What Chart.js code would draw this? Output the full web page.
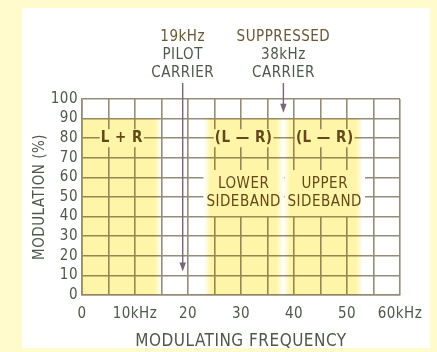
<!DOCTYPE html>
<html>
<head>
<meta charset="utf-8">
<style>
  html, body { margin: 0; padding: 0; background: #fffbcd; }
  #c { display: block; }
</style>
<script src="https://cdn.jsdelivr.net/npm/chart.js@4.4.1/dist/chart.umd.min.js"></script>
</head>
<body>
<canvas id="c" width="437" height="352"></canvas>
<script>
// Stereo FM composite baseband: how the modulation is shared out over frequency.

// Frequency axis (kHz): grid every 5 kHz, labels every 10 kHz
const freqGrid = [0, 5, 10, 15, 20, 25, 30, 35, 40, 45, 50, 55, 60];
const freqLabelValues = [0, 10, 20, 30, 40, 50, 60];
const freqLabels = ['0', '10kHz', '20', '30', '40', '50', '60kHz'];

// Modulation axis (%)
const modTicks = [0, 10, 20, 30, 40, 50, 60, 70, 80, 90, 100];

// Occupied signal bands: start / end frequency (kHz) and modulation level (%)
const bandFrom = [0, 23, 38];
const bandTo = [15, 38, 53];
const bandLevel = [90, 90, 90];

// Carriers: frequency (kHz) and level the arrow points to (%)
const carrierFreq = [19, 38];
const carrierLevel = [12, 93];
const carrierText = [['19kHz', 'PILOT', 'CARRIER'], ['SUPPRESSED', '38kHz', 'CARRIER']];

// Band captions: centre frequency (kHz), centre level (%)
const captionText = [['L + R'], ['(L \u2014 R)'], ['(L \u2014 R)'], ['LOWER', 'SIDEBAND'], ['UPPER', 'SIDEBAND']];
const captionFreq = [7.5, 30.5, 45.8, 30.5, 45.8];
const captionLevel = [80, 80, 80, 52, 52];

const FONT = "'Liberation Sans Narrow', 'DejaVu Sans Condensed', 'Roboto', sans-serif";
const AXIS_TEXT = 'rgb(78,88,74)';
const GRID = 'rgb(150,140,122)';
const BAND_RGB = '255,245,168';
const CAPTION = 'rgb(100,72,26)';
const ARROW = 'rgb(122,102,122)';
const SPACING = '0.5px';

const bandsPlugin = {
  id: 'bands',
  beforeDraw(chart) {
    const ctx = chart.ctx;
    ctx.save();
    ctx.fillStyle = '#fffbcd';
    ctx.fillRect(0, 0, chart.width, chart.height);
    ctx.fillStyle = '#ffffff';
    ctx.fillRect(22, 8, 408, 340);
    ctx.restore();
    ctx.letterSpacing = SPACING;
  },
  afterDraw(chart) {
    const ctx = chart.ctx;
    const x = chart.scales.x, y = chart.scales.y;
    const area = chart.chartArea;
    ctx.save();
    ctx.letterSpacing = SPACING;

    // caption boxes clear the grid behind the text
    const captions = captionText.map((lines, i) => {
      const single = lines.length === 1;
      ctx.font = (single ? 'bold 15px ' : '15px ') + FONT;
      const lh = 18;
      const w = Math.max(...lines.map(t => ctx.measureText(t).width));
      const cx = x.getPixelForValue(captionFreq[i]);
      const cy = y.getPixelForValue(captionLevel[i]);
      const h = lh * lines.length;
      const px = single ? 1 : 3, py = single ? 0 : 5;
      return { lines, cx, cy, w, h, lh, font: ctx.font,
        box: [cx - w / 2 - px, cy - h / 2 - py, w + 2 * px, h + 2 * py] };
    });
    ctx.fillStyle = '#ffffff';
    captions.forEach(c => ctx.fillRect(...c.box));

    // yellow bands, tinting the grid lines beneath them
    ctx.globalCompositeOperation = 'multiply';
    const fade = 1.3;
    bandFrom.forEach((from, i) => {
      const to = bandTo[i];
      const x0 = x.getPixelForValue(from), x1 = x.getPixelForValue(to);
      const yTop = y.getPixelForValue(bandLevel[i]), yBot = y.getPixelForValue(0);
      const g = ctx.createLinearGradient(x0, 0, x1, 0);
      const span = to - from;
      const solid = 'rgba(' + BAND_RGB + ',1)', clear = 'rgba(' + BAND_RGB + ',0)';
      g.addColorStop(0, from <= x.min ? solid : clear);
      g.addColorStop(fade / span, solid);
      g.addColorStop(1 - fade / span, solid);
      g.addColorStop(1, clear);
      ctx.fillStyle = g;
      ctx.fillRect(x0, yTop, x1 - x0, yBot - yTop);
    });
    ctx.globalCompositeOperation = 'source-over';

    // caption text
    ctx.fillStyle = CAPTION;
    ctx.textAlign = 'center';
    ctx.textBaseline = 'middle';
    captions.forEach(c => {
      ctx.font = c.font;
      c.lines.forEach((t, k) => {
        ctx.fillText(t, c.cx, c.cy - c.h / 2 + c.lh * (k + 0.5));
      });
    });

    // carrier arrows and their notes above the grid
    carrierFreq.forEach((f, i) => {
      const px = x.getPixelForValue(f);
      const tip = y.getPixelForValue(carrierLevel[i]);
      const start = area.top - 16;
      ctx.strokeStyle = ARROW;
      ctx.lineWidth = 1.4;
      ctx.beginPath();
      ctx.moveTo(px, start);
      ctx.lineTo(px, tip - 6);
      ctx.stroke();
      ctx.fillStyle = ARROW;
      ctx.beginPath();
      ctx.moveTo(px, tip);
      ctx.lineTo(px - 3.2, tip - 9);
      ctx.lineTo(px + 3.2, tip - 9);
      ctx.closePath();
      ctx.fill();

      ctx.font = '15px ' + FONT;
      carrierText[i].forEach((t, k) => {
        ctx.fillStyle = k === 0 ? 'rgb(104,86,52)' : AXIS_TEXT;
        ctx.fillText(t, px, area.top - 62 + 18 * k);
      });
    });
    ctx.restore();
  }
};

new Chart(document.getElementById('c'), {
  type: 'scatter',
  data: { datasets: [] },
  plugins: [bandsPlugin],
  options: {
    responsive: false,
    animation: false,
    devicePixelRatio: 1,
    layout: { padding: { left: 0, right: 37, top: 99, bottom: 0 } },
    plugins: { legend: { display: false }, tooltip: { enabled: false } },
    scales: {
      x: {
        type: 'linear',
        min: 0,
        max: 60,
        afterBuildTicks: s => { s.ticks = freqGrid.map(v => ({ value: v })); },
        afterFit: s => { s.height = 57; },
        ticks: {
          autoSkip: false,
          maxRotation: 0,
          padding: 10,
          color: AXIS_TEXT,
          font: { family: FONT, size: 15 },
          callback: v => {
            const k = freqLabelValues.indexOf(v);
            return k >= 0 ? freqLabels[k] : '';
          }
        },
        grid: { color: GRID, lineWidth: 1.6, drawTicks: false },
        border: { color: GRID, width: 1.6 },
        title: {
          display: true,
          text: 'MODULATING FREQUENCY',
          color: AXIS_TEXT,
          font: { family: FONT, size: 17 },
          padding: { top: 2, bottom: 0 }
        }
      },
      y: {
        type: 'linear',
        min: 0,
        max: 100,
        afterBuildTicks: s => { s.ticks = modTicks.map(v => ({ value: v })); },
        afterFit: s => { s.width = 82; },
        ticks: {
          autoSkip: false,
          padding: 4,
          color: AXIS_TEXT,
          font: { family: FONT, size: 15 }
        },
        grid: { color: GRID, lineWidth: 1.6, drawTicks: false },
        border: { color: GRID, width: 1.6 },
        title: {
          display: true,
          text: 'MODULATION (%)',
          color: AXIS_TEXT,
          font: { family: FONT, size: 15 },
          padding: { top: 31, bottom: 0 }
        }
      }
    }
  }
});
</script>
</body>
</html>
